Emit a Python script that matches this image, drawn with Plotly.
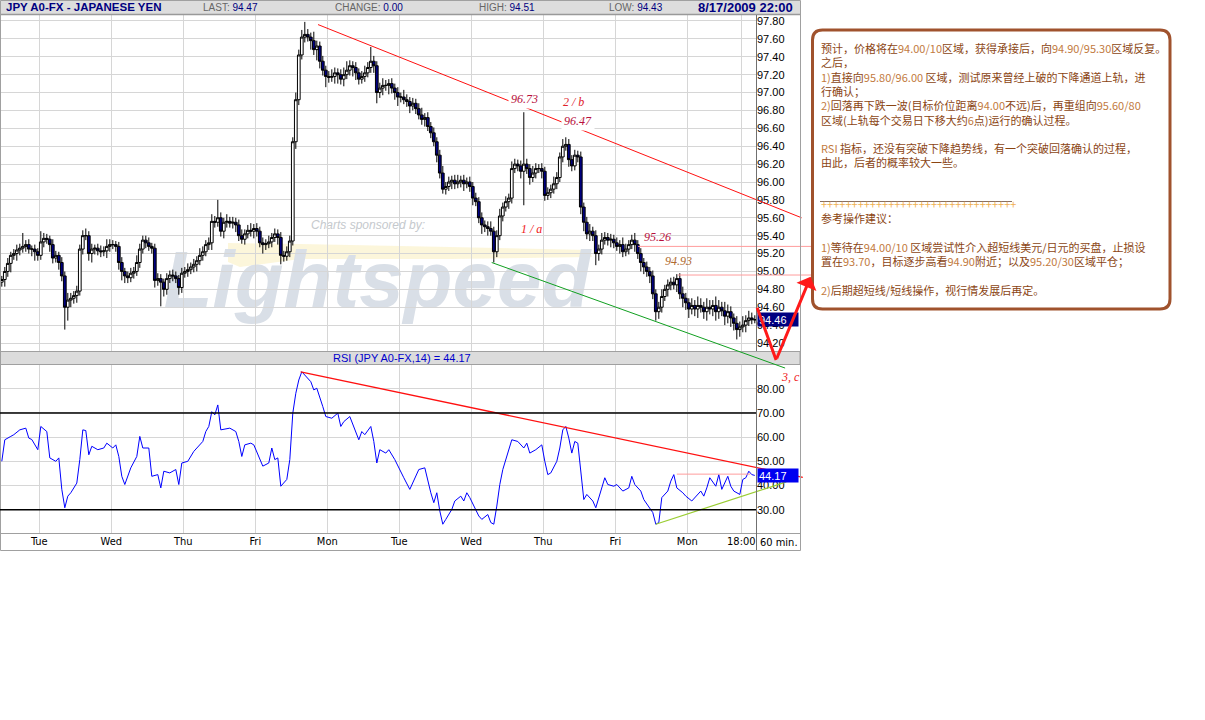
import re
import plotly.graph_objects as go

W, H = 1205, 720

# ---------------- data ----------------
# hourly closes, candle index 0 = Mon 11:00 ... 251 = Mon(8/17) 22:00
closes = [
    94.91, 95.00, 95.09, 95.18, 95.20, 95.24, 95.26, 95.28, 95.30, 95.25,
    95.25, 95.22, 95.18, 95.33, 95.37, 95.36, 95.30, 95.15, 95.18, 95.10,
    94.95, 94.60, 94.68, 94.70, 94.73, 94.78, 95.25, 95.40, 95.40, 95.20,
    95.25, 95.26, 95.23, 95.22, 95.23, 95.28, 95.30, 95.30, 95.28, 95.10,
    95.00, 94.95, 94.93, 94.98, 95.00, 95.10, 95.25, 95.35, 95.32, 95.28,
    95.26, 94.90, 94.92, 94.88, 94.80, 94.92, 94.96, 94.95, 94.92, 94.82,
    94.98, 95.00, 95.02, 95.05, 95.08, 95.12, 95.18, 95.22, 95.30, 95.32,
    95.56, 95.55, 95.60, 95.45, 95.55, 95.56, 95.54, 95.55, 95.52, 95.40,
    95.36, 95.42, 95.46, 95.45, 95.48, 95.45, 95.32, 95.30, 95.31, 95.33,
    95.38, 95.42, 95.38, 95.18, 95.17, 95.22, 95.34, 96.45, 96.92, 97.42,
    97.62, 97.65, 97.62, 97.58, 97.48, 97.52, 97.35, 97.25, 97.18, 97.17,
    97.18, 97.22, 97.20, 97.15, 97.20, 97.25, 97.30, 97.28, 97.22, 97.15,
    97.18, 97.22, 97.28, 97.35, 97.30, 97.00, 97.05, 97.08, 97.08, 97.10,
    97.05, 97.00, 96.95, 96.95, 96.92, 96.90, 96.85, 96.88, 96.82, 96.75,
    96.70, 96.72, 96.62, 96.55, 96.45, 96.30, 96.10, 95.92, 95.95, 96.00,
    96.02, 95.98, 96.00, 96.02, 95.98, 96.00, 95.95, 95.82, 95.78, 95.60,
    95.52, 95.50, 95.48, 95.45, 95.22, 95.40, 95.62, 95.72, 95.78, 95.82,
    96.15, 96.20, 96.18, 96.12, 96.20, 96.15, 96.05, 96.10, 96.15, 96.15,
    96.12, 95.85, 95.88, 95.92, 95.98, 96.05, 96.28, 96.40, 96.42, 96.25,
    96.18, 96.30, 96.28, 95.72, 95.55, 95.42, 95.45, 95.40, 95.20, 95.25,
    95.35, 95.38, 95.35, 95.36, 95.32, 95.28, 95.30, 95.22, 95.25, 95.30,
    95.35, 95.30, 95.20, 95.10, 95.05, 95.00, 94.95, 94.75, 94.55, 94.60,
    94.72, 94.80, 94.85, 94.88, 94.85, 94.92, 94.75, 94.70, 94.65, 94.58,
    94.62, 94.58, 94.62, 94.60, 94.55, 94.60, 94.58, 94.62, 94.55, 94.60,
    94.56, 94.50, 94.55, 94.48, 94.42, 94.35, 94.38, 94.40, 94.45, 94.48,
    94.46, 94.46,
]
first_open = 94.88
# wick lengths in pips above / below the candle body
upper_wick_pips = [
    4, 5, 6, 4, 5, 6, 5, 15, 5, 6, 4, 5,
    4, 12, 6, 5, 4, 6, 5, 4, 6, 5, 8, 6,
    5, 6, 5, 6, 8, 5, 6, 4, 5, 6, 5, 8,
    6, 5, 4, 5, 6, 4, 5, 6, 5, 8, 6, 5,
    5, 6, 4, 5, 6, 5, 4, 6, 5, 6, 5, 4,
    6, 5, 7, 5, 6, 5, 8, 6, 5, 6, 8, 6,
    20, 6, 5, 8, 5, 6, 5, 6, 7, 5, 6, 8,
    5, 6, 5, 6, 5, 7, 5, 6, 5, 6, 5, 6,
    6, 5, 8, 6, 8, 14, 6, 5, 10, 6, 5, 6,
    5, 6, 8, 6, 5, 6, 8, 10, 6, 5, 6, 5,
    6, 8, 6, 16, 6, 5, 6, 8, 6, 5, 6, 5,
    6, 5, 8, 6, 5, 6, 5, 6, 8, 5, 6, 5,
    6, 5, 6, 8, 5, 6, 5, 6, 8, 5, 6, 5,
    6, 5, 6, 5, 6, 5, 6, 8, 5, 6, 8, 5,
    6, 5, 8, 6, 5, 6, 58, 6, 5, 8, 6, 5,
    6, 5, 6, 5, 8, 6, 5, 8, 8, 6, 5, 6,
    5, 6, 5, 6, 8, 5, 6, 5, 8, 6, 5, 6,
    5, 6, 5, 8, 6, 5, 6, 8, 5, 6, 5, 6,
    5, 6, 5, 6, 8, 5, 6, 5, 6, 5, 6, 8,
    6, 5, 8, 6, 10, 8, 6, 10, 8, 6, 10, 8,
    6, 10, 8, 6, 5, 8, 6, 10, 6, 8, 6, 5,
]
lower_wick_pips = [
    5, 8, 6, 10, 5, 8, 6, 5, 6, 5, 8, 10,
    6, 5, 6, 5, 8, 6, 5, 8, 6, 25, 15, 8,
    6, 8, 5, 6, 5, 8, 10, 6, 5, 6, 5, 8,
    6, 5, 6, 8, 10, 8, 6, 5, 6, 5, 6, 5,
    6, 5, 6, 8, 6, 27, 8, 6, 5, 6, 5, 8,
    6, 5, 6, 5, 6, 8, 5, 6, 5, 6, 8, 6,
    5, 6, 8, 6, 5, 6, 8, 6, 5, 6, 5, 6,
    8, 6, 5, 10, 6, 5, 6, 5, 8, 10, 6, 5,
    6, 5, 8, 6, 5, 6, 5, 10, 6, 12, 8, 6,
    12, 6, 5, 8, 10, 6, 8, 5, 6, 10, 8, 6,
    5, 6, 5, 6, 8, 12, 6, 8, 6, 10, 6, 8,
    10, 6, 5, 6, 8, 5, 6, 5, 6, 8, 5, 6,
    5, 8, 6, 5, 6, 5, 8, 6, 5, 6, 8, 5,
    6, 8, 5, 6, 10, 6, 8, 5, 12, 6, 5, 6,
    5, 8, 6, 5, 6, 8, 38, 6, 8, 5, 6, 5,
    8, 6, 5, 6, 5, 6, 5, 6, 5, 8, 6, 5,
    6, 8, 10, 6, 8, 6, 13, 8, 6, 5, 6, 8,
    6, 5, 8, 6, 5, 6, 5, 8, 6, 10, 8, 6,
    8, 6, 10, 8, 6, 5, 8, 6, 5, 8, 6, 10,
    8, 10, 6, 8, 10, 6, 8, 10, 6, 8, 10, 8,
    6, 10, 8, 10, 8, 11, 8, 6, 8, 6, 5, 4,
]

# RSI(14) readings: candle index and value
rsi_time = [
    0, 1, 3, 4, 6, 8, 9, 10, 12, 13, 15, 16, 18, 19, 20, 21, 22, 23, 25, 26,
    27, 28, 29, 30, 32, 34, 35, 37, 38, 39, 40, 41, 43, 45, 46, 47, 49, 50, 52, 53,
    54, 56, 58, 59, 60, 62, 64, 65, 67, 68, 69, 70, 71, 72, 73,
    76, 78, 79, 80, 81, 83, 84, 86, 87, 89, 90, 91, 92, 93, 95, 96, 97, 98, 99, 100,
    102, 103, 104, 105, 107, 108, 110, 112, 113, 114, 116, 117, 119, 120, 121, 123, 124, 125, 126, 128,
    129, 131, 132, 134, 136, 138, 139, 141, 142, 143, 144, 145, 146, 147, 148, 150, 151, 153, 154, 155,
    156, 158, 159, 160, 162, 163, 164, 165, 166, 167, 168, 170, 172, 174, 175, 176, 178, 180, 181, 182,
    183, 185, 186, 187, 188, 189, 190, 191, 192, 193, 194, 195, 197, 198, 200, 201, 202, 204, 205, 207,
    209, 210, 211, 213, 214, 216, 217, 218, 219, 220, 222, 223, 224, 225, 227, 228, 230,
    233, 234, 235, 236, 238, 239, 240, 242, 243, 244, 246, 247, 248, 249, 250, 251,
]
rsi_value = [
    50.0, 58.9, 60.3, 61.0, 63.0, 63.7, 59.6, 59.0, 54.8, 64.4, 62.3, 51.4, 50.0, 51.4, 38.4, 30.8, 35.6, 37.0, 41.0, 50.7,
    63.0, 62.7, 52.7, 56.2, 54.8, 55.5, 57.5, 55.5, 56.8, 52.0, 43.8, 40.4, 47.3, 52.0, 60.3, 55.5, 55.5, 43.8, 44.5, 39.0,
    45.9, 45.2, 46.6, 40.4, 49.3, 50.0, 54.1, 55.5, 58.2, 62.3, 64.4, 70.5, 69.2, 73.3, 63.0,
    63.7, 62.3, 58.2, 52.0, 56.8, 57.5, 56.8, 50.7, 48.0, 49.3, 55.5, 50.7, 51.4, 39.7, 42.5, 50.7, 69.9, 78.1, 83.6, 87.0,
    84.2, 82.9, 79.5, 80.2, 72.6, 68.5, 67.8, 69.9, 64.4, 66.4, 68.5, 65.1, 58.9, 62.3, 61.0, 64.4, 58.2, 49.3, 54.8, 53.4,
    54.8, 50.7, 48.0, 43.2, 38.4, 43.8, 46.6, 47.3, 41.8, 37.0, 32.9, 37.0, 29.5, 24.0, 26.0, 30.1, 33.6, 35.6, 33.6, 37.0,
    35.0, 30.1, 27.4, 26.0, 28.0, 24.7, 24.0, 31.5, 40.4, 46.6, 50.7, 58.9, 58.2, 55.5, 57.5, 53.4, 54.8, 56.8, 50.0, 44.5,
    45.2, 50.0, 55.5, 63.0, 64.4, 59.6, 53.4, 58.2, 57.5, 46.6, 34.2, 36.3, 33.6, 30.8, 39.7, 43.2, 40.4, 39.7, 40.4, 37.7,
    39.0, 43.8, 40.4, 37.7, 34.2, 30.8, 28.8, 24.0, 24.7, 35.0, 37.7, 41.8, 44.5, 39.0, 37.0, 35.6, 33.6,
    37.7, 35.6, 39.0, 43.2, 39.7, 44.5, 38.4, 43.8, 39.7, 37.7, 36.3, 42.5, 43.2, 45.9, 44.5, 44.17,
]

# axis ticks
time_ticks = [12.5, 36.5, 60.5, 84.5, 108.5, 132.5, 156.5, 180.5, 204.5, 228.5, 246.5]
time_labels = ["Tue", "Wed", "Thu", "Fri", "Mon", "Tue", "Wed", "Thu", "Fri", "Mon", "18:00"]
price_ticks = [94.2, 94.4, 94.6, 94.8, 95.0, 95.2, 95.4, 95.6, 95.8, 96.0,
               96.2, 96.4, 96.6, 96.8, 97.0, 97.2, 97.4, 97.6, 97.8]
rsi_ticks = [30, 40, 50, 60, 70, 80]
rsi_bands = [70, 30]

# analyst drawings (time index, price / RSI value)
upper_channel_time = [105.4, 266.6]
upper_channel_price = [97.76, 95.60]
lower_channel_time = [163.3, 261.1]
lower_channel_price = [95.10, 93.92]
level1_time = [212.1, 270.0]
level1_price = [95.28, 95.28]
level2_time = [225.4, 270.0]
level2_price = [94.96, 94.96]
v_time = [251.6, 258.1, 269.6]
v_price = [94.61, 94.01, 94.94]
rsi_down_time = [99.6, 267.0]
rsi_down_value = [87.0, 43.4]
rsi_up_time = [218.0, 261.5]
rsi_up_value = [24.0, 41.5]
rsi_flat_time = [225.0, 249.5]
rsi_flat_value = [44.7, 44.7]

wave_text = ["96.73", "2 / b", "96.47", "1 / a", "95.26", "94.93"]
wave_time = [174.1, 190.4, 192.1, 176.7, 218.7, 225.4]
wave_price = [96.93, 96.895, 96.683, 95.476, 95.38, 95.12]
wave_color = ["#B8103C", "#E0202A", "#B8103C", "#F01818", "#B8103C", "#B06A30"]

last_price = 94.46
last_rsi = 44.17

assert len(closes) == 252 and len(upper_wick_pips) == 252 and len(lower_wick_pips) == 252
assert len(rsi_time) == len(rsi_value)

# ---------------- build ----------------
opens = [first_open] + closes[:-1]
highs = [round(max(o, c) + u / 100, 2) for o, c, u in zip(opens, closes, upper_wick_pips)]
lows = [round(min(o, c) - l / 100, 2) for o, c, l in zip(opens, closes, lower_wick_pips)]
t = list(range(len(closes)))


def X(px):
    return px / W


def Y(py):
    return 1 - py / H


PLOT_R = 756       # right edge of plot areas (px)
EXT_R = 830        # right edge of overlay drawing areas (px)
P_TOP, P_BOT = 15, 351
R_TOP, R_BOT = 365, 533
T_RANGE = [-0.6, 251.4]
EXT_T = [T_RANGE[0], T_RANGE[0] + (T_RANGE[1] - T_RANGE[0]) * EXT_R / PLOT_R]
P_RANGE = [94.1106, 97.867]
P_EXT_BOT = 380
P_EXT_RANGE = [P_RANGE[0] - (P_RANGE[1] - P_RANGE[0]) * (P_EXT_BOT - P_BOT) / (P_BOT - P_TOP), P_RANGE[1]]
R_RANGE = [20.37, 89.8]

AX_FONT = "Arial, Liberation Sans, sans-serif"
NARROW = "Liberation Sans Narrow, Arial Narrow, DejaVu Sans Condensed, sans-serif"
SERIF = "Liberation Serif, Times New Roman, serif"
CJK = "Noto Sans CJK SC, sans-serif"

fig = go.Figure()

# watermark subplot (drawn underneath the candles)
fig.add_trace(go.Scatter(
    x=[228, 300, 450, 590, 592, 450, 300, 240, 228],
    y=[243, 244, 247, 250, 257, 259, 259, 267, 262],
    fill="toself", fillcolor="rgba(250,238,190,0.55)", mode="lines",
    line=dict(width=0), xaxis="x", yaxis="y", hoverinfo="skip"))
fig.add_trace(go.Scatter(
    x=[377], y=[287], mode="text", text=["Lightspeed"],
    textfont=dict(family=AX_FONT, size=80, color="#D9DFE7", style="italic", weight="bold"),
    xaxis="x", yaxis="y", hoverinfo="skip"))
fig.add_trace(go.Scatter(
    x=[368], y=[226], mode="text", text=["Charts sponsored by:"],
    textfont=dict(family=AX_FONT, size=12, color="#C5C9CD", style="italic"),
    xaxis="x", yaxis="y", hoverinfo="skip"))

# candles
fig.add_trace(go.Candlestick(
    x=t, open=opens, high=highs, low=lows, close=closes,
    xaxis="x2", yaxis="y2", whiskerwidth=0,
    increasing=dict(line=dict(color="black", width=1), fillcolor="white"),
    decreasing=dict(line=dict(color="black", width=1), fillcolor="#000080"),
    hoverinfo="skip"))

# RSI
fig.add_trace(go.Scatter(x=rsi_time, y=rsi_value, mode="lines",
                         line=dict(color="#0000FF", width=1), xaxis="x3", yaxis="y3",
                         hoverinfo="skip"))

# analyst lines on price overlay
def overlay(xs, ys, color, width, ax="x4", ay="y4"):
    fig.add_trace(go.Scatter(x=xs, y=ys, mode="lines", line=dict(color=color, width=width),
                             xaxis=ax, yaxis=ay, hoverinfo="skip"))

overlay(level1_time, level1_price, "#FF9C9C", 1)
overlay(level2_time, level2_price, "#FF9C9C", 1)
overlay(upper_channel_time, upper_channel_price, "#FF1010", 1)
overlay(lower_channel_time, lower_channel_price, "#10A020", 1)
overlay(rsi_flat_time, rsi_flat_value, "#FF9C9C", 1, "x5", "y5")
overlay(rsi_up_time, rsi_up_value, "#9ACD32", 1.2, "x5", "y5")
overlay(rsi_down_time, rsi_down_value, "#FF1010", 1.3, "x5", "y5")

# ---------------- frame shapes ----------------
shapes = []
GRAY = "#A0A0A0"
shapes.append(dict(type="rect", xref="paper", yref="paper", x0=0, x1=X(800), y0=Y(15), y1=Y(0),
                   fillcolor="#DDDDDD", line=dict(width=0), layer="below"))
shapes.append(dict(type="line", xref="paper", yref="paper", x0=0, x1=X(800), y0=Y(14.5), y1=Y(14.5),
                   line=dict(color="#999999", width=1.5)))
shapes.append(dict(type="rect", xref="paper", yref="paper", x0=0, x1=X(800), y0=Y(364.5), y1=Y(351.5),
                   fillcolor="#DCDCDC", line=dict(color=GRAY, width=1), layer="below"))
shapes.append(dict(type="line", xref="paper", yref="paper", x0=0, x1=X(800), y0=Y(533.5), y1=Y(533.5),
                   line=dict(color=GRAY, width=1)))
shapes.append(dict(type="rect", xref="paper", yref="paper", x0=X(0.5), x1=X(800.5), y0=Y(550.5), y1=Y(0.5),
                   line=dict(color=GRAY, width=1)))
for y0, y1 in [(15, 351), (364.5, 550)]:
    shapes.append(dict(type="line", xref="paper", yref="paper", x0=X(756.5), x1=X(756.5),
                       y0=Y(y1), y1=Y(y0), line=dict(color="#707070", width=1)))
for b in rsi_bands:
    shapes.append(dict(type="line", xref="x3 domain", yref="y3", x0=0, x1=1, y0=b, y1=b,
                       line=dict(color="black", width=1.5)))

# rounded comment box
def rrect(x0, y0, x1, y1, r):
    return (f"M {X(x0 + r)},{Y(y0)} L {X(x1 - r)},{Y(y0)} Q {X(x1)},{Y(y0)} {X(x1)},{Y(y0 + r)} "
            f"L {X(x1)},{Y(y1 - r)} Q {X(x1)},{Y(y1)} {X(x1 - r)},{Y(y1)} "
            f"L {X(x0 + r)},{Y(y1)} Q {X(x0)},{Y(y1)} {X(x0)},{Y(y1 - r)} "
            f"L {X(x0)},{Y(y0 + r)} Q {X(x0)},{Y(y0)} {X(x0 + r)},{Y(y0)} Z")

shapes.append(dict(type="path", xref="paper", yref="paper", path=rrect(812.5, 30, 1170, 309, 10),
                   line=dict(color="#A0522D", width=3)))
shapes.append(dict(type="line", xref="paper", yref="paper", x0=X(820), x1=X(1012), y0=Y(201.5), y1=Y(201.5),
                   line=dict(color="#8A7060", width=1)))

# ---------------- annotations ----------------
ann = []
BLUE = "#000080"
ann.append(dict(xref="paper", yref="paper", x=X(4), y=Y(7.5), xanchor="left", yanchor="middle",
                text="<b>JPY A0-FX - JAPANESE YEN</b>", showarrow=False,
                font=dict(family=AX_FONT, size=11.5, color=BLUE)))
for xpx, lab, val in [(201, "LAST:", "94.47"), (333, "CHANGE:", "0.00"),
                      (477, "HIGH:", "94.51"), (607, "LOW:", "94.43")]:
    ann.append(dict(xref="paper", yref="paper", x=X(xpx), y=Y(8), xanchor="left", yanchor="middle",
                    text=f'<span style="color:#666666">{lab}</span> <span style="color:{BLUE}">{val}</span>',
                    showarrow=False, font=dict(family=AX_FONT, size=10)))
ann.append(dict(xref="paper", yref="paper", x=X(795), y=Y(7.5), xanchor="right", yanchor="middle",
                text="<b>8/17/2009 22:00</b>", showarrow=False,
                font=dict(family=AX_FONT, size=13, color=BLUE)))
ann.append(dict(xref="paper", yref="paper", x=X(402), y=Y(358), xanchor="center", yanchor="middle",
                text="RSI (JPY A0-FX,14) = 44.17", showarrow=False,
                font=dict(family=AX_FONT, size=11, color="#0000CC")))
ann.append(dict(xref="paper", yref="paper", x=X(779), y=Y(542), xanchor="center", yanchor="middle",
                text="60 min.", showarrow=False, font=dict(family=NARROW, size=11, color="black")))
ann.append(dict(xref="paper", yref="paper", x=X(790), y=Y(377), xanchor="center", yanchor="middle",
                text="<i>3, c</i>", showarrow=False, font=dict(family=SERIF, size=12, color="#F01818")))

for txt, tt, pp, col in zip(wave_text, wave_time, wave_price, wave_color):
    masked = txt in ("96.73", "96.47")
    ann.append(dict(xref="x2", yref="y2", x=tt, y=pp, xanchor="center", yanchor="middle",
                    text=f"<i>{txt}</i>", showarrow=False,
                    bgcolor="white" if masked else None, borderpad=2 if masked else 1,
                    font=dict(family=SERIF, size=12, color=col)))

ann.append(dict(xref="paper", yref="y2", x=X(757), y=last_price, xanchor="left", yanchor="middle",
                text=f"{last_price:.2f}", showarrow=False, bgcolor="#000080", width=38, height=11,
                align="left", borderpad=1, font=dict(family=AX_FONT, size=11, color="white")))
ann.append(dict(xref="paper", yref="y3", x=X(757), y=last_rsi, xanchor="left", yanchor="middle",
                text=f"{last_rsi:.2f}", showarrow=False, bgcolor="#0000F0", width=38, height=11,
                align="left", borderpad=1, font=dict(family=AX_FONT, size=11, color="white")))

# red hand-drawn V arrow
ann.append(dict(xref="x4", yref="y4", axref="x4", ayref="y4", x=v_time[1], y=v_price[1],
                ax=v_time[0], ay=v_price[0], text="", showarrow=True, arrowhead=0,
                arrowwidth=3, arrowcolor="#FF1A1A", standoff=0, startstandoff=0))
ann.append(dict(xref="x4", yref="y4", axref="x4", ayref="y4", x=v_time[2], y=v_price[2],
                ax=v_time[1], ay=v_price[1], text="", showarrow=True, arrowhead=1, arrowsize=1.2,
                arrowwidth=3, arrowcolor="#FF1A1A", standoff=0, startstandoff=0))

# comment text
NUMC = "#C27A40"


def colorize(s):
    return re.sub(r"(\d[\d./]*\)?|RSI)", lambda m: f'<span style="color:{NUMC}">{m.group(1)}</span>', s)


note_top = [
    "预计，价格将在94.00/10区域，获得承接后，向94.90/95.30区域反复。",
    "之后，",
    "1)直接向95.80/96.00 区域，测试原来曾经上破的下降通道上轨，进",
    "行确认；",
    "2)回落再下跌一波(目标价位距离94.00不远)后，再重组向95.60/80",
    "区域(上轨每个交易日下移大约6点)运行的确认过程。",
    "",
    "RSI 指标，还没有突破下降趋势线，有一个突破回落确认的过程，",
    "由此，后者的概率较大一些。",
]
note_bottom = [
    '<span style="color:#F0B050">' + "+" * 32 + "</span>",
    "参考操作建议：",
    "",
    "1)等待在94.00/10 区域尝试性介入超短线美元/日元的买盘，止损设",
    "置在93.70，目标逐步高看94.90附近；以及95.20/30区域平仓；",
    "",
    "2)后期超短线/短线操作，视行情发展后再定。",
]
ann.append(dict(xref="paper", yref="paper", x=X(819), y=Y(38), xanchor="left", yanchor="top",
                align="left", showarrow=False,
                text="<br>".join(colorize(s) if s else " " for s in note_top),
                font=dict(family=CJK, size=11, color="#8B4513")))
ann.append(dict(xref="paper", yref="paper", x=X(819), y=Y(194), xanchor="left", yanchor="top",
                align="left", showarrow=False,
                text="<br>".join((s if s.startswith("<span") else colorize(s)) if s else " " for s in note_bottom),
                font=dict(family=CJK, size=11, color="#8B4513")))

# ---------------- layout ----------------
GRID = "#D6D6D6"
hidden = dict(visible=False, showgrid=False, zeroline=False, fixedrange=True)
fig.update_layout(
    width=W, height=H, margin=dict(l=0, r=0, t=0, b=0),
    paper_bgcolor="white", plot_bgcolor="rgba(0,0,0,0)",
    showlegend=False, hovermode=False, boxgap=0.05, boxgroupgap=0.05,
    font=dict(family=AX_FONT, size=11, color="black"),
    xaxis=dict(domain=[0, X(PLOT_R)], range=[0, PLOT_R], anchor="y", **hidden),
    yaxis=dict(domain=[Y(P_BOT), Y(P_TOP)], range=[P_BOT, P_TOP], anchor="x", **hidden),
    xaxis2=dict(domain=[0, X(PLOT_R)], range=T_RANGE, anchor="y2", tickvals=time_ticks,
                showticklabels=False, showgrid=True, gridcolor=GRID, gridwidth=1, zeroline=False,
                showline=False, ticks="", rangeslider=dict(visible=False)),
    yaxis2=dict(domain=[Y(P_BOT), Y(P_TOP)], range=P_RANGE, anchor="x2", side="right",
                tickvals=price_ticks, ticktext=[f"{v:.2f}" for v in price_ticks],
                showgrid=True, gridcolor=GRID, gridwidth=1, zeroline=False, showline=False, ticks="",
                tickfont=dict(family=AX_FONT, size=11, color="black")),
    xaxis3=dict(domain=[0, X(PLOT_R)], range=T_RANGE, anchor="y3", tickvals=time_ticks,
                ticktext=time_labels, showgrid=True, gridcolor=GRID, gridwidth=1, zeroline=False,
                showline=False, ticks="", tickfont=dict(family=NARROW, size=11, color="black")),
    yaxis3=dict(domain=[Y(R_BOT), Y(R_TOP)], range=R_RANGE, anchor="x3", side="right",
                tickvals=rsi_ticks, ticktext=[f"{v:.2f}" for v in rsi_ticks],
                showgrid=True, gridcolor=GRID, gridwidth=1, zeroline=False, showline=False, ticks="",
                tickfont=dict(family=AX_FONT, size=11, color="black")),
    xaxis4=dict(domain=[0, X(EXT_R)], range=EXT_T, anchor="y4", **hidden),
    yaxis4=dict(domain=[Y(P_EXT_BOT), Y(P_TOP)], range=P_EXT_RANGE, anchor="x4", **hidden),
    xaxis5=dict(domain=[0, X(EXT_R)], range=EXT_T, anchor="y5", **hidden),
    yaxis5=dict(domain=[Y(R_BOT), Y(R_TOP)], range=R_RANGE, anchor="x5", **hidden),
    shapes=shapes, annotations=ann,
)

fig.write_html("out.html", config={"displayModeBar": False},
               post_script="document.body.style.margin='0px';document.body.style.padding='0px';")
